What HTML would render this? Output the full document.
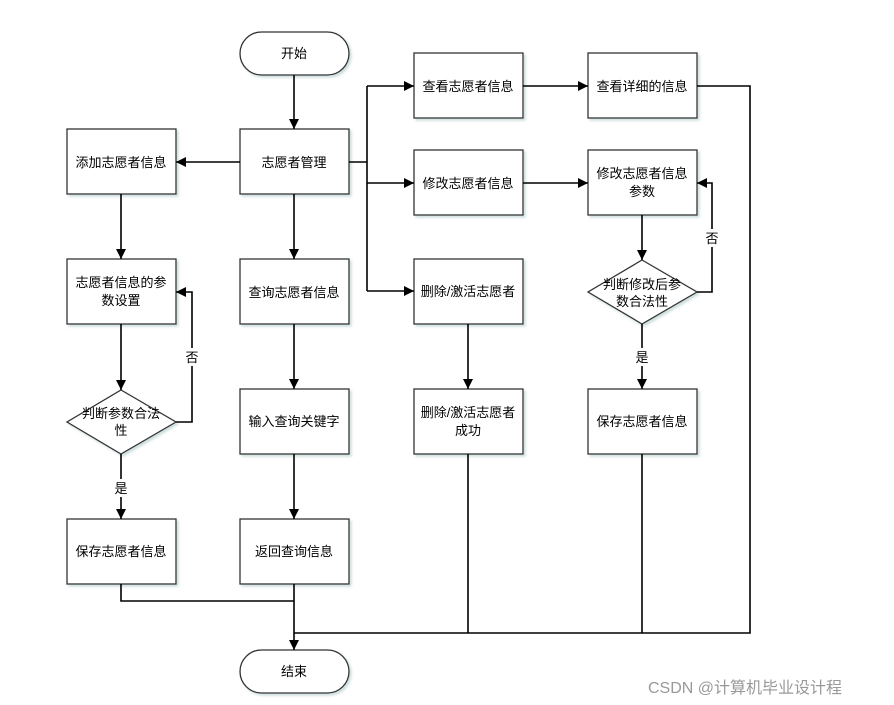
<!DOCTYPE html>
<html><head><meta charset="utf-8"><style>
html,body{margin:0;padding:0;background:#fff;}
svg{display:block;}
text{font-family:"Liberation Sans","Noto Sans CJK SC",sans-serif;font-size:13px;fill:#000;}
</style></head><body>
<svg width="894" height="705" viewBox="0 0 894 705" xmlns="http://www.w3.org/2000/svg">
<defs>
<marker id="a" viewBox="0 0 10 10" refX="10" refY="5" markerWidth="10" markerHeight="10" markerUnits="userSpaceOnUse" orient="auto"><path d="M0,0 L10,5 L0,10 z" fill="#000"/></marker>
<filter id="s" x="-10%" y="-10%" width="130%" height="130%"><feDropShadow dx="2" dy="2" stdDeviation="1.2" flood-color="#9bb" flood-opacity="0.5"/></filter>
</defs>
<g fill="#fff" stroke="#333" stroke-width="1.3" filter="url(#s)">
<rect x="240" y="32" width="109" height="43" rx="21.5"/>
<rect x="240" y="650" width="109" height="43" rx="21.5"/>
<rect x="240" y="129" width="109" height="65"/>
<rect x="67" y="129" width="109" height="65"/>
<rect x="67" y="259" width="109" height="65"/>
<path d="M121,390 L176,422 L121,454 L67,422 z"/>
<rect x="67" y="519" width="109" height="65"/>
<rect x="240" y="259" width="109" height="65"/>
<rect x="240" y="389" width="109" height="65"/>
<rect x="240" y="519" width="109" height="65"/>
<rect x="414" y="53" width="109" height="65"/>
<rect x="414" y="150" width="109" height="65"/>
<rect x="414" y="259" width="109" height="65"/>
<rect x="414" y="389" width="109" height="65"/>
<rect x="588" y="53" width="109" height="65"/>
<rect x="588" y="150" width="109" height="65"/>
<path d="M642,260 L697,292 L642,324 L588,292 z"/>
<rect x="588" y="389" width="109" height="65"/>
</g>
<g fill="none" stroke="#000" stroke-width="1.6">
<path d="M294,75 V129" marker-end="url(#a)"/>
<path d="M240,162 H176" marker-end="url(#a)"/>
<path d="M121,194 V259" marker-end="url(#a)"/>
<path d="M121,324 V390" marker-end="url(#a)"/>
<path d="M121,454 V479"/><path d="M121,497 V519" marker-end="url(#a)"/>
<path d="M176,422 H192 V292 H176" marker-end="url(#a)"/>
<path d="M294,194 V259" marker-end="url(#a)"/>
<path d="M294,324 V389" marker-end="url(#a)"/>
<path d="M294,454 V519" marker-end="url(#a)"/>
<path d="M349,162 H367"/>
<path d="M367,86 V291"/>
<path d="M367,86 H414" marker-end="url(#a)"/>
<path d="M367,183 H414" marker-end="url(#a)"/>
<path d="M367,291 H414" marker-end="url(#a)"/>
<path d="M523,86 H588" marker-end="url(#a)"/>
<path d="M523,183 H588" marker-end="url(#a)"/>
<path d="M468,324 V389" marker-end="url(#a)"/>
<path d="M642,215 V260" marker-end="url(#a)"/>
<path d="M697,292 H712 V183 H697" marker-end="url(#a)"/>
<path d="M642,324 V348"/><path d="M642,366 V389" marker-end="url(#a)"/>
<path d="M697,86 H750 V633 H294"/>
<path d="M468,454 V633"/>
<path d="M642,454 V633"/>
<path d="M121,584 V601 H294"/>
<path d="M294,584 V650" marker-end="url(#a)"/>
</g>
<g stroke="none" fill="#fff">
<rect x="184" y="348" width="16" height="18"/>
<rect x="704" y="229" width="16" height="18"/>
</g>
<g text-anchor="middle">
<text x="294" y="58">开始</text>
<text x="294" y="676">结束</text>
<text x="294" y="167">志愿者管理</text>
<text x="121" y="167">添加志愿者信息</text>
<text x="121" y="287">志愿者信息的参</text>
<text x="121" y="305">数设置</text>
<text x="121" y="418">判断参数合法</text>
<text x="121" y="435">性</text>
<text x="121" y="493">是</text>
<text x="192" y="362">否</text>
<text x="121" y="556">保存志愿者信息</text>
<text x="294" y="297">查询志愿者信息</text>
<text x="294" y="426">输入查询关键字</text>
<text x="294" y="556">返回查询信息</text>
<text x="468" y="91">查看志愿者信息</text>
<text x="468" y="188">修改志愿者信息</text>
<text x="468" y="296">删除/激活志愿者</text>
<text x="468" y="417">删除/激活志愿者</text>
<text x="468" y="435">成功</text>
<text x="642" y="91">查看详细的信息</text>
<text x="642" y="178">修改志愿者信息</text>
<text x="642" y="196">参数</text>
<text x="642" y="289">判断修改后参</text>
<text x="642" y="306">数合法性</text>
<text x="642" y="362">是</text>
<text x="712" y="243">否</text>
<text x="642" y="426">保存志愿者信息</text>
</g>
<text x="648" y="693" style="font-size:16px;fill:#999;">CSDN @计算机毕业设计程</text>
</svg>
</body></html>
